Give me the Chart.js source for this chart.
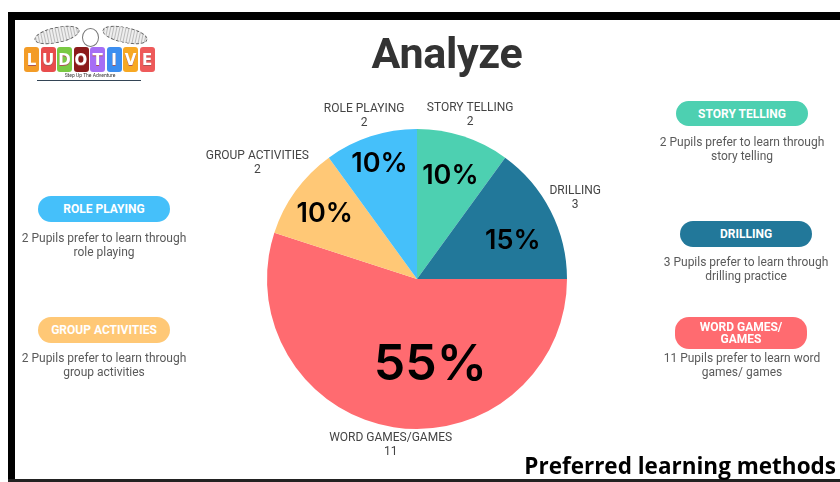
<!DOCTYPE html>
<html>
<head>
<meta charset="utf-8">
<script src="https://cdn.jsdelivr.net/npm/chart.js@4.4.1/dist/chart.umd.min.js"></script>
<style>
  html, body { margin: 0; padding: 0; background: #fff; }
  #wrap { position: relative; width: 840px; height: 482px; overflow: hidden; font-family: Roboto, sans-serif; }
  #myChart { position: absolute; left: 0; top: 0; }
  .frameTop { position: absolute; left: 8px; top: 12px; width: 832px; height: 8px; background: #000; }
  .frameLeft { position: absolute; left: 8px; top: 12px; width: 7px; height: 470px; background: #000; }
  .frameBot { position: absolute; left: 8px; top: 479px; width: 832px; height: 3px; background: #222; }
  .title { position: absolute; left: 27px; width: 840px; top: 28px; text-align: center; font: 700 43px Roboto, sans-serif; color: #333; letter-spacing: -0.3px; }
  .subtitle { position: absolute; right: 4px; top: 450px; font: 700 22.5px "Open Sans", sans-serif; color: #000; }
  .pill { position: absolute; width: 132px; border-radius: 14px; color: #fff; font: 700 12px Roboto, sans-serif; text-align: center; display: flex; align-items: center; justify-content: center; line-height: 12px; }
  .desc { position: absolute; width: 190px; text-align: center; font: 400 12px Roboto, sans-serif; color: #5a5a5a; line-height: 14px; }
  .tiles { position: absolute; left: 24px; top: 47px; display: flex; gap: 1.5px; }
  .tiles span { width: 15px; height: 25px; border-radius: 3px; color: #fff; font: 700 15px "DejaVu Sans", sans-serif; display: flex; align-items: center; justify-content: center; text-shadow: 0 1px 0 #a55; }
  .wing { position: absolute; top: 27px; width: 44px; height: 14px; border-radius: 50%; border: 1px dashed #666; background: repeating-linear-gradient(90deg, #bbb 0 1px, #eee 1px 3px); }
  .tag { position: absolute; left: 37px; top: 80px; width: 104px; height: 1px; background: #345; }
  .tagtxt { position: absolute; left: 60px; top: 72px; width: 60px; text-align: center; font: 5px Roboto, sans-serif; color: #333; }
</style>
</head>
<body>
<div id="wrap">
  <canvas id="myChart" width="840" height="482"></canvas>
  <div class="frameTop"></div>
  <div class="frameLeft"></div>
  <div class="frameBot"></div>

  <div class="wing" style="left:34px; transform: rotate(-12deg);"></div>
  <div class="wing" style="left:102px; transform: rotate(12deg);"></div>
  <div style="position:absolute; left:82px; top:28px; width:15px; height:17px; border:1px solid #777; border-radius:50%; background:#fff;"></div>
  <div class="tiles">
    <span style="background:#f39c27">L</span>
    <span style="background:#e84c4c">U</span>
    <span style="background:#7ac943">D</span>
    <span style="background:#8b1a1a">O</span>
    <span style="background:#a66ef5">T</span>
    <span style="background:#3c8ef0">I</span>
    <span style="background:#f7a823">V</span>
    <span style="background:#ee5a5a">E</span>
  </div>
  <div class="tag"></div>
  <div class="tagtxt">Step Up The Adventure</div>

  <div class="title">Analyze</div>
  <div class="subtitle">Preferred learning methods</div>

  <div class="pill" style="left:676px; top:101px; height:25px; background:#4dd0b1;">STORY TELLING</div>
  <div class="desc" style="left:647px; top:135px;">2 Pupils prefer to learn through<br>story telling</div>
  <div class="pill" style="left:680px; top:221px; height:26px; background:#22789a;">DRILLING</div>
  <div class="desc" style="left:651px; top:255px;">3 Pupils prefer to learn through<br>drilling practice</div>
  <div class="pill" style="left:675px; top:317px; height:32px; background:#ff6b70;">WORD GAMES/<br>GAMES</div>
  <div class="desc" style="left:647px; top:351px;">11 Pupils prefer to learn word<br>games/ games</div>

  <div class="pill" style="left:38px; top:196px; height:26px; background:#45c0fa;">ROLE PLAYING</div>
  <div class="desc" style="left:9px; top:231px;">2 Pupils prefer to learn through<br>role playing</div>
  <div class="pill" style="left:38px; top:317px; height:26px; background:#ffc876;">GROUP ACTIVITIES</div>
  <div class="desc" style="left:9px; top:351px;">2 Pupils prefer to learn through<br>group activities</div>
</div>
<script>
const categories = ['STORY TELLING', 'DRILLING', 'WORD GAMES/GAMES', 'GROUP ACTIVITIES', 'ROLE PLAYING'];
const pupils = [2, 3, 11, 2, 2];
const sliceColors = ['#4dd0b1', '#22789a', '#ff6b70', '#ffc876', '#45c0fa'];

// labels inside and around the slices
const pieLabels = {
    id: 'pieLabels',
    afterDatasetsDraw(chart, args, opts) {
        const ctx = chart.ctx;
        const meta = chart.getDatasetMeta(0);
        const vals = chart.data.datasets[0].data;
        const total = vals.reduce((a, b) => a + b, 0);
        ctx.save();
        meta.data.forEach((arc, i) => {
            const p = arc.getProps(['x', 'y', 'startAngle', 'endAngle', 'outerRadius'], true);
            const mid = (p.startAngle + p.endAngle) / 2;
            const cos = Math.cos(mid), sin = Math.sin(mid);

            // percentage
            const big = vals[i] / total > 0.3;
            const rf = opts.radius[i];
            const nd = opts.nudge[i];
            ctx.fillStyle = '#000';
            ctx.font = (big ? '600 50px' : '600 27px') + ' Inter, sans-serif';
            ctx.textAlign = 'center';
            ctx.textBaseline = 'middle';
            ctx.fillText(Math.round(vals[i] / total * 100) + '%',
                p.x + cos * p.outerRadius * rf + nd[0], p.y + sin * p.outerRadius * rf + nd[1]);

            // category name + count outside
            ctx.font = '400 12px Roboto, sans-serif';
            ctx.fillStyle = '#444';
            const name = chart.data.labels[i];
            const w = ctx.measureText(name).width;
            const h = 16;
            const d = p.outerRadius + 1 + w / 2 * Math.abs(cos) + h / 2 * Math.abs(sin);
            const cx = p.x + cos * d, cy = p.y + sin * d;
            ctx.fillText(name, cx, cy - 7);
            ctx.fillText(String(vals[i]), cx, cy + 7);
        });
        ctx.restore();
    }
};

const ctx = document.getElementById('myChart').getContext('2d');
const chart = new Chart(ctx, {
    type: 'pie',
    data: {
        labels: categories,
        datasets: [{
            data: pupils,
            backgroundColor: sliceColors,
            borderWidth: 0
        }]
    },
    options: {
        responsive: false,
        animation: false,
        layout: { padding: { left: 267, right: 273, top: 129, bottom: 53 } },
        plugins: {
            legend: { display: false },
            tooltip: { enabled: false },
            pieLabels: {
                radius: [0.72, 0.68, 0.58, 0.76, 0.81],
                nudge: [[0, 0], [5, 8], [27, 0], [0, 2], [0, 0]]
            }
        }
    },
    plugins: [pieLabels]
});
</script>
</body>
</html>
